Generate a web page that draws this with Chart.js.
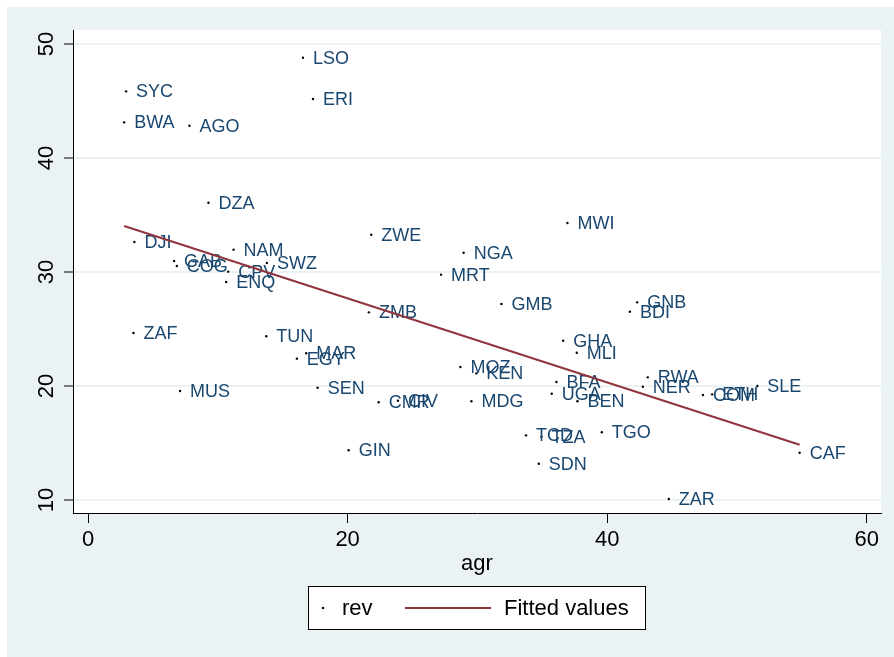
<!DOCTYPE html>
<html>
<head>
<meta charset="utf-8">
<script src="https://cdn.jsdelivr.net/npm/chart.js@4.4.1/dist/chart.umd.min.js"></script>
<style>
  html, body { margin: 0; padding: 0; background: #fff; }
  canvas { display: block; }
</style>
</head>
<body>
<canvas id="chart" width="894" height="657"></canvas>
<script>
// country codes, share of agriculture (x) and revenue (y)
var countries = ['LSO', 'SYC', 'BWA', 'AGO', 'ERI', 'DZA', 'DJI', 'GAB', 'COG', 'NAM',
                 'CPV', 'ENQ', 'SWZ', 'ZAF', 'TUN', 'ZMB', 'ZWE', 'MAR', 'EGY', 'MUS',
                 'SEN', 'GIN', 'CMR', 'CIV', 'NGA', 'MRT', 'MWI', 'GMB', 'GHA', 'GNB',
                 'BDI', 'MOZ', 'KEN', 'MDG', 'MLI', 'BFA', 'UGA', 'BEN', 'TCD', 'TZA',
                 'SDN', 'TGO', 'RWA', 'NER', 'COM', 'ETH', 'SLE', 'CAF', 'ZAR'];
var agr = [16.56, 2.93, 2.78, 7.81, 17.33, 9.28, 3.57, 6.63, 6.84, 11.21,
           10.80, 10.64, 13.78, 3.50, 13.73, 21.64, 21.82, 16.81, 16.09, 7.09,
           17.69, 20.08, 22.39, 23.88, 28.94, 27.20, 36.94, 31.85, 36.61, 42.31,
           41.75, 28.69, 29.92, 29.54, 37.66, 36.09, 35.73, 37.71, 33.75, 34.94,
           34.73, 39.59, 43.13, 42.75, 47.38, 48.09, 51.57, 54.83, 44.75];
var rev = [48.80, 45.85, 43.13, 42.83, 45.18, 36.08, 32.63, 30.96, 30.53, 31.96,
           30.03, 29.12, 30.79, 24.65, 24.36, 26.46, 33.27, 22.87, 22.40, 19.56,
           19.85, 14.36, 18.57, 18.71, 31.69, 29.77, 34.30, 27.19, 23.97, 27.34,
           26.52, 21.67, 21.11, 18.66, 22.92, 20.35, 19.32, 18.66, 15.67, 15.55,
           13.18, 15.94, 20.76, 19.94, 19.21, 19.27, 20.00, 14.15, 10.09];

// fitted line end points
var fitAgr = [2.78, 54.83];
var fitRev = [34.04, 14.85];

var xTicks = [0, 20, 40, 60];
var yTicks = [10, 20, 30, 40, 50];

var FONT = "'Liberation Sans', Arial, sans-serif";
Chart.defaults.font.family = FONT;
Chart.defaults.color = '#000';

var points = agr.map(function (a, i) { return { x: a, y: rev[i] }; });
var fitLine = fitAgr.map(function (a, i) { return { x: a, y: fitRev[i] }; });

var bgPlugin = {
    id: 'bg',
    beforeDraw: function (chart) {
        var c = chart.ctx, a = chart.chartArea;
        c.save();
        c.fillStyle = '#fff';
        c.fillRect(0, 0, chart.width, chart.height);
        c.fillStyle = '#eaf2f3';
        c.fillRect(7, 7, chart.width - 7, chart.height - 7);
        c.fillStyle = '#fff';
        c.fillRect(a.left, a.top, a.right - a.left, a.bottom - a.top);
        c.restore();
    }
};

// country code to the right of each dot, drawn before the fitted line
var labelPlugin = {
    id: 'pointLabels',
    afterDatasetDraw: function (chart, args) {
        if (args.index !== 0) return;
        var c = chart.ctx;
        c.save();
        c.font = '18px ' + FONT;
        c.fillStyle = '#1a476f';
        c.textBaseline = 'middle';
        c.textAlign = 'left';
        args.meta.data.forEach(function (pt, i) {
            c.fillText(countries[i], pt.x + 10, pt.y + 1);
        });
        c.restore();
    }
};

// Stata style boxed legend under the axis title
var legendPlugin = {
    id: 'boxLegend',
    afterDraw: function (chart) {
        var c = chart.ctx, ds = chart.data.datasets;
        c.save();
        c.fillStyle = '#fff';
        c.fillRect(308, 587, 338, 43);
        c.strokeStyle = '#000';
        c.lineWidth = 1;
        c.strokeRect(308.5, 586.5, 337, 43);
        c.fillStyle = ds[0].pointBackgroundColor;
        c.beginPath();
        c.arc(323, 608, 1.2, 0, 2 * Math.PI);
        c.fill();
        c.font = '22px ' + FONT;
        c.fillStyle = '#000';
        c.textBaseline = 'middle';
        c.fillText(ds[0].label, 342, 609);
        c.strokeStyle = ds[1].borderColor;
        c.lineWidth = 2;
        c.beginPath();
        c.moveTo(405, 608);
        c.lineTo(491, 608);
        c.stroke();
        c.fillText(ds[1].label, 504, 609);
        c.restore();
    }
};

var ctx = document.getElementById('chart').getContext('2d');
new Chart(ctx, {
    type: 'scatter',
    data: {
        datasets: [{
            label: 'rev',
            data: points,
            pointRadius: 1.2,
            pointBackgroundColor: '#000',
            pointBorderWidth: 0,
            order: 2
        }, {
            label: 'Fitted values',
            data: fitLine,
            showLine: true,
            borderColor: '#90353b',
            borderWidth: 2,
            pointRadius: 0,
            fill: false,
            order: 1
        }]
    },
    options: {
        responsive: false,
        animation: false,
        layout: { padding: { left: 0, right: 13, top: 30, bottom: 74 } },
        plugins: {
            legend: { display: false },
            tooltip: { enabled: false }
        },
        scales: {
            x: {
                type: 'linear',
                min: -1.16,
                max: 61.1,
                afterBuildTicks: function (s) { s.ticks = xTicks.map(function (v) { return { value: v }; }); },
                afterFit: function (s) { s.height = 70; },
                grid: { drawOnChartArea: false, tickLength: 10, tickColor: '#000', tickWidth: 1 },
                border: { color: '#000', width: 1 },
                ticks: { font: { size: 22 }, padding: 4, color: '#000', maxRotation: 0 },
                title: { display: true, text: 'agr', font: { size: 22 }, color: '#000', padding: { top: 0, bottom: 6 } }
            },
            y: {
                type: 'linear',
                min: 8.86,
                max: 51.23,
                afterBuildTicks: function (s) { s.ticks = yTicks.map(function (v) { return { value: v }; }); },
                afterFit: function (s) { s.width = 73; },
                grid: { color: '#eaf2f3', lineWidth: 2, tickLength: 9, tickColor: '#000', tickWidth: 1 },
                border: { color: '#000', width: 1 },
                ticks: { font: { size: 22 }, color: '#000', minRotation: 90, maxRotation: 90, crossAlign: 'center', padding: 5 }
            }
        }
    },
    plugins: [bgPlugin, labelPlugin, legendPlugin]
});
</script>
</body>
</html>
